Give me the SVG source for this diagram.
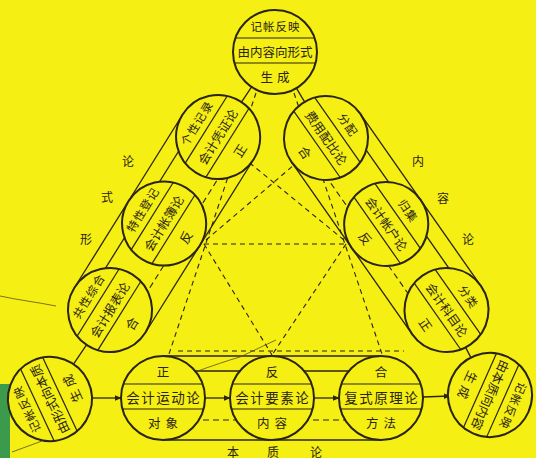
<svg xmlns="http://www.w3.org/2000/svg" xmlns:xlink="http://www.w3.org/1999/xlink" width="536" height="458" viewBox="0 0 536 458">
<style>
.bg{fill:#F5EF14}
.c{fill:#F5EF14;stroke:#2a2410;stroke-width:2}
.d{stroke:#2a2410;stroke-width:1.2;fill:none}
.ln{stroke:#2a2410;stroke-width:1.3;fill:none}
.dl{stroke:#2a2410;stroke-width:1.1;fill:none;stroke-dasharray:6 4}
.dsh{stroke:#2a2410;stroke-width:1.1;fill:none;stroke-dasharray:5 4}
.faint{stroke:#5a5218;stroke-width:0.8;fill:none}
.t{font-family:"Noto Sans CJK SC","Noto Sans CJK JP",sans-serif;fill:#2a2410;text-anchor:middle;dominant-baseline:central}
.s1{font-size:11.5px;letter-spacing:1px}
.s2{font-size:12.5px}
.s3{font-size:12.5px}
.b2{font-size:13.5px;letter-spacing:1.5px}
.lab{font-family:"Noto Sans CJK SC","Noto Sans CJK JP",sans-serif;fill:#2a2410;font-size:12px;text-anchor:middle;dominant-baseline:central}
</style>
<defs>
<g id="frame">
<circle class="c" r="42"/>
<line class="d" x1="-39.6" y1="-14" x2="39.6" y2="-14"/>
<line class="d" x1="-40.5" y1="11" x2="40.5" y2="11"/>
</g>
<marker id="ah" viewBox="0 0 10 10" refX="9" refY="5" markerWidth="7" markerHeight="7" orient="auto" markerUnits="userSpaceOnUse">
<path d="M0,1 L10,5 L0,9 z" fill="#2a2410"/>
</marker>
</defs>
<rect class="bg" x="0" y="0" width="536" height="458"/>
<rect x="0" y="384" width="10" height="74" fill="#3c9a4c"/>

<g id="connectors">
<!-- left band (local x along band, L3 at 0, L1 at 204) -->
<g transform="translate(110,310) rotate(-58)">
<line class="ln" x1="0" y1="-42" x2="204" y2="-42"/>
<line class="ln" x1="0" y1="-26" x2="204" y2="-26"/>
<line class="dl" x1="0" y1="22" x2="204" y2="22"/>
<line class="ln" x1="0" y1="42" x2="204" y2="42"/>
</g>
<!-- right band (R1 at 0, R3 at 210) -->
<g transform="translate(326,138) rotate(55)">
<line class="ln" x1="0" y1="-42" x2="210" y2="-42"/>
<line class="ln" x1="0" y1="-26" x2="210" y2="-26"/>
<line class="dl" x1="0" y1="22" x2="210" y2="22"/>
<line class="ln" x1="0" y1="42" x2="210" y2="42"/>
</g>
<!-- bottom band -->
<line class="ln" x1="163" y1="356" x2="381" y2="356"/>
<line class="ln" x1="163" y1="371" x2="381" y2="371"/>
<line class="dl" x1="163" y1="420" x2="381" y2="420"/>
<line class="ln" x1="163" y1="440" x2="381" y2="440"/>
<!-- dashed inner figure -->
<line class="dsh" x1="256" y1="93" x2="168" y2="357"/>
<line class="dsh" x1="294" y1="93" x2="383" y2="357"/>
<line class="dsh" x1="178" y1="351" x2="404" y2="351"/>
<line class="dsh" x1="204" y1="244" x2="346" y2="244"/>
<line class="dsh" x1="204" y1="244" x2="272" y2="355"/>
<line class="dsh" x1="346" y1="244" x2="272" y2="355"/>
<line class="dsh" x1="206" y1="240" x2="294" y2="165"/>
<line class="dsh" x1="344" y1="240" x2="251" y2="164"/>
<!-- corner links -->
<line class="ln" x1="251.6" y1="86.9" x2="241.5" y2="102.1"/>
<line class="ln" x1="296.4" y1="88.1" x2="304.6" y2="101.9"/>
<line class="ln" x1="86.5" y1="344.8" x2="73.5" y2="364.2"/>
<line class="ln" x1="465.6" y1="347.4" x2="471.8" y2="359.4"/>
<!-- bottom arrows -->
<line class="ln" x1="92" y1="398" x2="121" y2="398" marker-end="url(#ah)"/>
<line class="ln" x1="205" y1="398" x2="230" y2="398" marker-end="url(#ah)"/>
<line class="ln" x1="314" y1="398" x2="339" y2="398" marker-end="url(#ah)"/>
<line class="ln" x1="423" y1="397" x2="450" y2="396" marker-end="url(#ah)"/>
<!-- stray strokes -->
<path class="faint" d="M143,390 C180,378 215,364 240,357 C255,350 265,345 276,340"/>
<path class="faint" d="M12,452 L42,441"/>
<path class="faint" d="M0,296 C18,300 36,302 56,306"/>
</g>

<g id="n-top" transform="translate(275,52)">
<use href="#frame"/>
<text class="t s1" x="0.5" y="-26">记帐反映</text>
<text class="t s2" y="-1">由内容向形式</text>
<text class="t s3" x="2" y="24" letter-spacing="4">生成</text>
</g>

<g id="n-L1" transform="translate(218.1,137) rotate(-58)">
<use href="#frame"/>
<text class="t s1" x="0.5" y="-26">个性记录</text>
<text class="t s2" y="-1">会计凭证论</text>
<text class="t s3" y="25">正</text>
</g>
<g id="n-L2" transform="translate(164.1,223.5) rotate(-58)">
<use href="#frame"/>
<text class="t s1" x="0.5" y="-26">特性登记</text>
<text class="t s2" y="-1">会计帐簿论</text>
<text class="t s3" y="25">反</text>
</g>
<g id="n-L3" transform="translate(110,310) rotate(-58)">
<use href="#frame"/>
<text class="t s1" x="0.5" y="-26">共性综合</text>
<text class="t s2" y="-1">会计报表论</text>
<text class="t s3" y="25">合</text>
</g>

<g id="n-R1" transform="translate(326,138) rotate(55)">
<use href="#frame"/>
<text class="t s1" x="2" y="-26" letter-spacing="4">分配</text>
<text class="t s2" y="-1">费用配比论</text>
<text class="t s3" y="25">合</text>
</g>
<g id="n-R2" transform="translate(386.2,224) rotate(55)">
<use href="#frame"/>
<text class="t s1" x="2" y="-26" letter-spacing="4">归集</text>
<text class="t s2" y="-1">会计帐户论</text>
<text class="t s3" y="25">反</text>
</g>
<g id="n-R3" transform="translate(446.5,310) rotate(55)">
<use href="#frame"/>
<text class="t s1" x="2" y="-26" letter-spacing="4">分类</text>
<text class="t s2" y="-1">会计科目论</text>
<text class="t s3" y="25">正</text>
</g>

<g id="n-BL" transform="translate(50,399) rotate(-115)">
<use href="#frame"/>
<text class="t s1" x="0.5" y="-26">记帐反映</text>
<text class="t s2" y="-1">由形式向本质</text>
<text class="t s3" x="2" y="24" letter-spacing="4">生成</text>
</g>
<g id="n-BR" transform="translate(490,395) rotate(114)">
<use href="#frame"/>
<text class="t s1" x="0.5" y="-26">记帐反映</text>
<text class="t s2" y="-1">由本质向内容</text>
<text class="t s3" x="2" y="24" letter-spacing="4">生成</text>
</g>

<g id="n-B1" transform="translate(163,398)">
<use href="#frame"/>
<text class="t s3" y="-27">正</text>
<text class="t b2" x="0.7" y="-1">会计运动论</text>
<text class="t s3" x="2.5" y="24" letter-spacing="5">对象</text>
</g>
<g id="n-B2" transform="translate(272,398)">
<use href="#frame"/>
<text class="t s3" y="-27">反</text>
<text class="t b2" x="0.7" y="-1">会计要素论</text>
<text class="t s3" x="2.5" y="24" letter-spacing="5">内容</text>
</g>
<g id="n-B3" transform="translate(381,398)">
<use href="#frame"/>
<text class="t s3" y="-27">合</text>
<text class="t b2" x="0.7" y="-1">复式原理论</text>
<text class="t s3" x="2.5" y="24" letter-spacing="5">方法</text>
</g>

<g id="labels">
<text class="lab" x="86" y="238">形</text>
<text class="lab" x="107" y="196">式</text>
<text class="lab" x="128" y="160">论</text>
<text class="lab" x="418" y="160">内</text>
<text class="lab" x="443" y="197">容</text>
<text class="lab" x="468" y="238">论</text>
<text class="lab" x="233" y="451">本</text>
<text class="lab" x="273" y="451">质</text>
<text class="lab" x="316" y="451">论</text>
</g>
</svg>
